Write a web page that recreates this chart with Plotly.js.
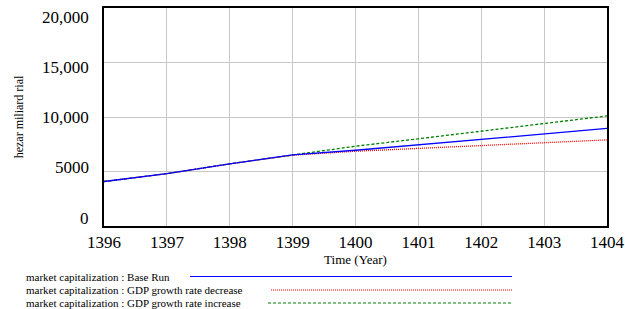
<!DOCTYPE html>
<html>
<head>
<meta charset="utf-8">
<script src="https://cdn.plot.ly/plotly-3.0.1.min.js"></script>
<style>html,body{margin:0;padding:0;background:#fff;}#chart{width:625px;height:309px;}</style>
</head>
<body>
<div id="chart"></div>
<script>
const years = [1396, 1397, 1398, 1399, 1400, 1401, 1402, 1403, 1404];
const baseRun = [4080, 4800, 5700, 6520, 6950, 7450, 7950, 8450, 8950];
const gdpDecrease = [4080, 4800, 5700, 6500, 6860, 7120, 7380, 7640, 7900];
const gdpIncrease = [4080, 4800, 5710, 6540, 7320, 8000, 8700, 9400, 10100];
const seriesNames = [
  "market capitalization : Base Run",
  "market capitalization : GDP growth rate decrease",
  "market capitalization : GDP growth rate increase"
];
const yTickVals = [0, 5000, 10000, 15000, 20000];
const yTickText = ["0", "5000", "10,000", "15,000", "20,000"];
const xTickVals = years;

const colors = ["#0000ff", "#ff0000", "#008000"];
const dashes = ["solid", "1px,1px", "3px,2px"];
const seriesData = [baseRun, gdpDecrease, gdpIncrease];

// draw Base Run last so it sits on top, as in the reference
const order = [2, 1, 0];
const traces = order.map(i => ({
  x: years, y: seriesData[i], type: "scatter", mode: "lines", name: seriesNames[i],
  line: {color: colors[i], width: 1.3, dash: dashes[i]}, showlegend: false
}));

const serif = "Liberation Serif";
const legendY = [276.5, 290, 303];
const lineStarts = [190, 271, 268];
const H = 309, T = 8, B = 83, L = 104, R = 18;
const plotH = H - T - B, plotW = 625 - L - R;
const toPaperY = py => (H - B - py) / plotH;
const toPaperX = px => (px - L) / plotW;

const annotations = seriesNames.map((n, i) => ({
  text: n, xref: "paper", yref: "paper", x: toPaperX(24), y: toPaperY(legendY[i]),
  xanchor: "left", yanchor: "middle", showarrow: false,
  font: {family: serif, size: 11, color: "#000"}
}));
// y tick labels as annotations (reference labels are slightly offset from gridlines)
yTickVals.forEach((v, i) => {
  annotations.push({
    text: yTickText[i], xref: "paper", yref: "y", x: 0, y: v,
    xanchor: "right", yanchor: "middle", xshift: -13, yshift: 8 - 17 * (v / 20000),
    showarrow: false, font: {family: serif, size: 17, color: "#000"}
  });
});
const shapes = seriesNames.map((n, i) => ({
  type: "line", xref: "paper", yref: "paper",
  x0: toPaperX(lineStarts[i]), x1: toPaperX(512), y0: toPaperY(legendY[i]), y1: toPaperY(legendY[i]),
  line: {color: colors[i], width: 1, dash: dashes[i]}
}));

const layout = {
  width: 625, height: 309,
  margin: {l: L, r: R, t: T, b: B},
  paper_bgcolor: "#fff", plot_bgcolor: "#fff",
  font: {family: serif, color: "#000"},
  xaxis: {
    range: [1396, 1404], tickvals: xTickVals, ticktext: xTickVals.map(String),
    showgrid: true, gridcolor: "#c8c8c8", gridwidth: 1,
    showline: true, linecolor: "#000", linewidth: 2, mirror: true,
    ticks: "", zeroline: false,
    tickfont: {family: serif, size: 17, color: "#000"},
    title: {text: "Time (Year)", font: {family: serif, size: 13, color: "#000"}, standoff: 1}
  },
  yaxis: {
    range: [0, 20000], tickvals: yTickVals, showticklabels: false,
    showgrid: true, gridcolor: "#c8c8c8", gridwidth: 1,
    showline: true, linecolor: "#000", linewidth: 2, mirror: true,
    ticks: "", zeroline: false,
    title: {text: "hezar miliard rial", font: {family: serif, size: 12, color: "#000"}, standoff: 76}
  },
  annotations: annotations,
  shapes: shapes
};

Plotly.newPlot("chart", traces, layout, {displayModeBar: false, staticPlot: true});
</script>
</body>
</html>
